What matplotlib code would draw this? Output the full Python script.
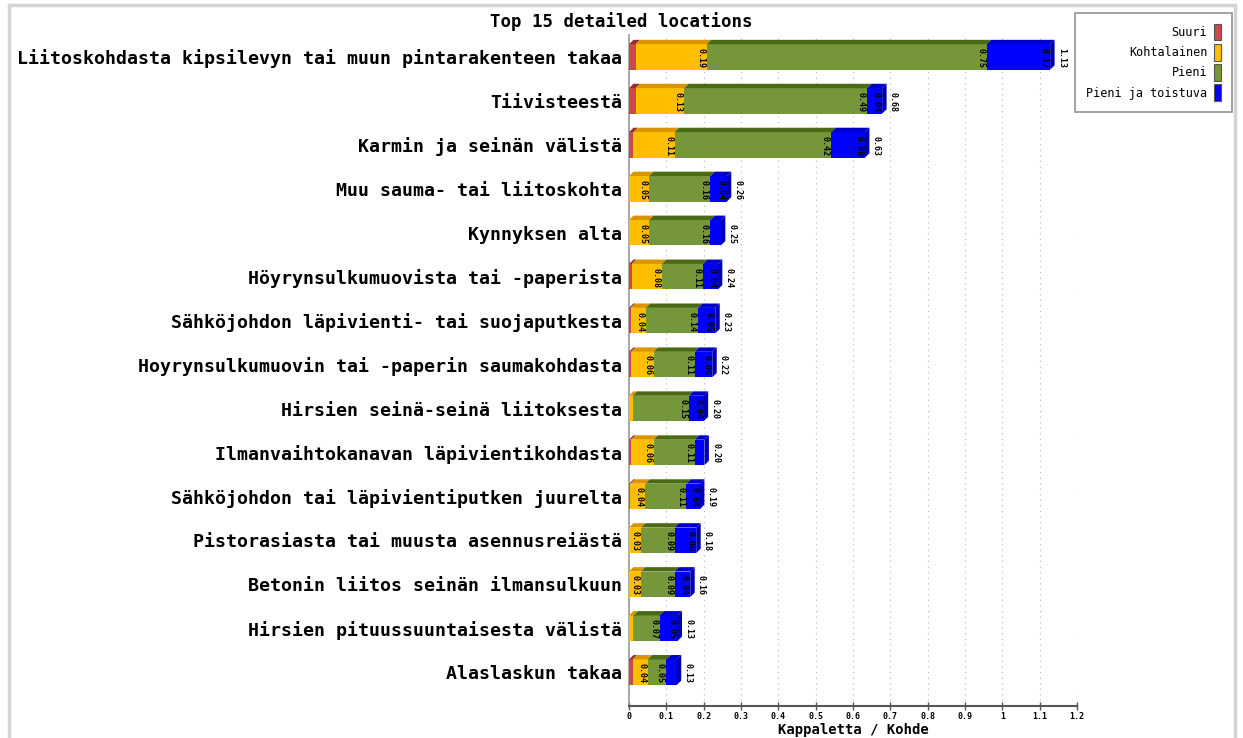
import matplotlib
matplotlib.use("Agg")
import matplotlib.pyplot as plt
from matplotlib.patches import Polygon, Rectangle, Patch
import numpy as np

categories = [
    "Liitoskohdasta kipsilevyn tai muun pintarakenteen takaa",
    "Tiivisteestä",
    "Karmin ja seinän välistä",
    "Muu sauma- tai liitoskohta",
    "Kynnyksen alta",
    "Höyrynsulkumuovista tai -paperista",
    "Sähköjohdon läpivienti- tai suojaputkesta",
    "Hoyrynsulkumuovin tai -paperin saumakohdasta",
    "Hirsien seinä-seinä liitoksesta",
    "Ilmanvaihtokanavan läpivientikohdasta",
    "Sähköjohdon tai läpivientiputken juurelta",
    "Pistorasiasta tai muusta asennusreiästä",
    "Betonin liitos seinän ilmansulkuun",
    "Hirsien pituussuuntaisesta välistä",
    "Alaslaskun takaa",
]
suuri = [0.018, 0.018, 0.012, 0.0, 0.0, 0.008, 0.005, 0.006, 0.0, 0.006, 0.004, 0.0, 0.0, 0.0, 0.010]
kohtalainen = [0.19, 0.13, 0.11, 0.054, 0.054, 0.08, 0.04, 0.06, 0.010, 0.06, 0.04, 0.032, 0.032, 0.012, 0.04]
pieni = [0.75, 0.49, 0.42, 0.164, 0.164, 0.11, 0.14, 0.11, 0.15, 0.11, 0.11, 0.09, 0.09, 0.07, 0.05]
pieni_toistuva = [0.17, 0.04, 0.09, 0.044, 0.028, 0.04, 0.046, 0.047, 0.04, 0.026, 0.036, 0.058, 0.042, 0.048, 0.028]

series_names = ["Suuri", "Kohtalainen", "Pieni", "Pieni ja toistuva"]
x_ticks = [0, 0.1, 0.2, 0.3, 0.4, 0.5, 0.6, 0.7, 0.8, 0.9, 1, 1.1, 1.2]

face_colors = ["#c94a4a", "#ffbf00", "#76963a", "#0000ff"]
top_colors = ["#9c2c2c", "#d99400", "#4a6a16", "#0000c8"]
side_colors = ["#9c2c2c", "#d99400", "#4a6a16", "#0000b0"]

W, H = 1243, 738
fig = plt.figure(figsize=(W / 100, H / 100), dpi=100)

# outer frame
fig.patches.append(Rectangle((9 / W, -0.05), (1235 - 9) / W, 1.05 - 5 / H,
                             transform=fig.transFigure, fill=False,
                             edgecolor="#d4d4d4", linewidth=2.5))

ax = fig.add_axes([629 / W, 1 - 706 / H, (1077 - 629) / W, (706 - 35) / H])
ax.set_xlim(0, 1.2)
ax.set_ylim(14.77, -0.5)

series = [suuri, kohtalainen, pieni, pieni_toistuva]
y = np.arange(len(categories))
bh = 0.58
dx, dy = 0.012, 0.10

mono = "DejaVu Sans Mono"
left = np.zeros(len(categories))
for si, vals in enumerate(series):
    vals = np.array(vals)
    ax.barh(y, vals, left=left, height=bh, color=face_colors[si],
            linewidth=0, zorder=3)
    for i in range(len(categories)):
        l, v = left[i], vals[i]
        if v <= 0:
            continue
        r = l + v
        yt = y[i] - bh / 2
        ax.add_patch(Polygon([(l, yt), (r, yt), (r + dx, yt - dy), (l + dx, yt - dy)],
                             closed=True, facecolor=top_colors[si], edgecolor="none", zorder=3))
        if si > 0 and v >= 0.03:
            ax.text(r - 0.016, y[i] + 0.02, f"{v:.2f}", rotation=270, ha="center", va="center",
                    fontsize=6, family=mono, fontweight="bold", color="black", zorder=5)
    left = left + vals

totals = left
for i in range(len(categories)):
    r = totals[i]
    yt = y[i] - bh / 2
    yb = y[i] + bh / 2
    ax.add_patch(Polygon([(r, yt), (r + dx, yt - dy), (r + dx, yb - dy), (r, yb)],
                         closed=True, facecolor=side_colors[3], edgecolor="none", zorder=3))
    ax.text(r + dx + 0.018, y[i] + 0.02, f"{r:.2f}", rotation=270, ha="center", va="center",
            fontsize=6, family=mono, fontweight="bold", color="black", zorder=5)

ax.set_yticks(y)
ax.set_yticklabels(categories, family=mono, fontsize=13.12, fontweight="bold")
ax.tick_params(axis="y", length=0, pad=5)

ax.set_xticks(x_ticks)
ax.set_xticklabels([f"{t:g}" for t in x_ticks], family=mono, fontsize=6, fontweight="bold")
ax.tick_params(axis="x", direction="inout", length=6, width=1, color="#555555", pad=1)
ax.set_xlabel("Kappaletta / Kohde", family=mono, fontsize=10, fontweight="bold", labelpad=2)

ax.xaxis.grid(True, linestyle=(0, (1, 4)), color="#b8b8b8", linewidth=0.8, zorder=0)
ax.set_axisbelow(True)
for s in ["top", "right"]:
    ax.spines[s].set_visible(False)
ax.spines["left"].set_color("#999999")
ax.spines["left"].set_linewidth(1.2)
ax.spines["bottom"].set_color("#555555")
ax.spines["bottom"].set_linewidth(1.5)

fig.text(0.5, 1 - 22 / H, "Top 15 detailed locations", ha="center", va="center",
         family=mono, fontsize=12.5, fontweight="bold")

handles = [Patch(facecolor=c, edgecolor="#555555", linewidth=0.8) for c in face_colors]
leg = fig.legend(handles, series_names, loc="upper right",
                 bbox_to_anchor=(1232 / W, 1 - 13 / H), markerfirst=False,
                 prop={"family": mono, "size": 8.5}, handlelength=0.6, handleheight=1.8,
                 labelspacing=0.3, handletextpad=0.6, borderpad=0.9, borderaxespad=0,
                 fancybox=False, frameon=True)
leg.get_frame().set_edgecolor("#777777")
leg.get_frame().set_linewidth(1.2)

fig.savefig("out.png", dpi=100)
